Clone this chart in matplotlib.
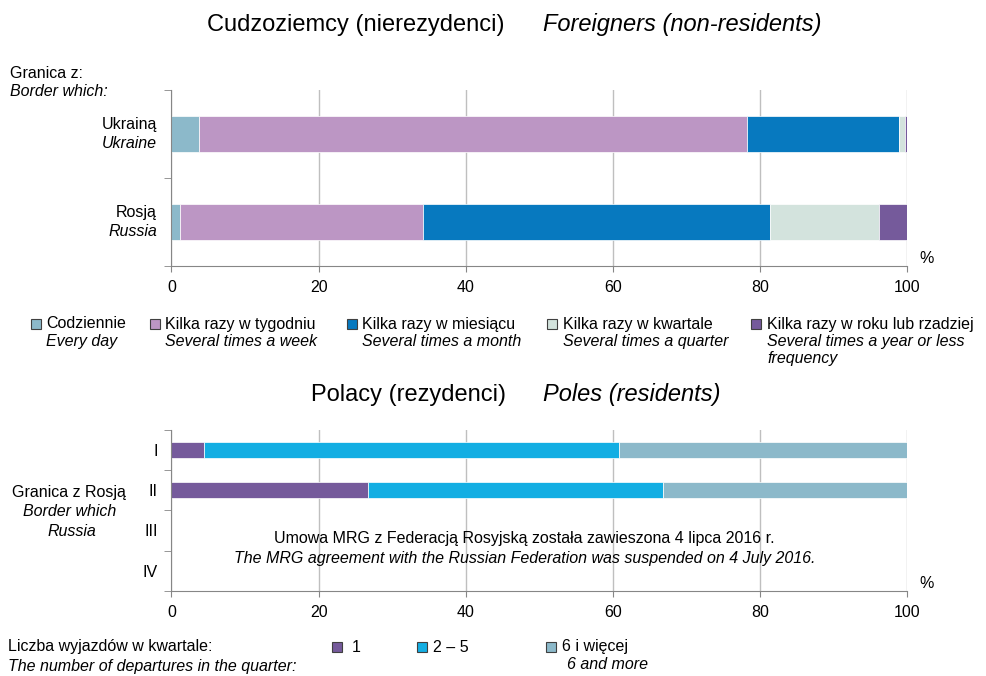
"""
Częstotliwość przekraczania granicy - cudzoziemcy i Polacy
"""

import numpy as np
import matplotlib
matplotlib.use('Agg')
import matplotlib.pyplot as plt
from matplotlib.patches import Rectangle
from matplotlib.transforms import blended_transform_factory

plt.rcParams['font.family'] = ['Liberation Sans', 'DejaVu Sans']

# --- dane: cudzoziemcy (nierezydenci) ---
borders_pl = ['Ukrainą', 'Rosją']
borders_en = ['Ukraine', 'Russia']
freq_pl = ['Codziennie', 'Kilka razy w tygodniu', 'Kilka razy w miesiącu',
           'Kilka razy w kwartale', 'Kilka razy w roku lub rzadziej']
freq_en = ['Every day', 'Several times a week', 'Several times a month',
           'Several times a quarter', 'Several times a year or less\nfrequency']
every_day = [3.8, 1.1]
per_week = [74.4, 33.1]
per_month = [20.7, 47.1]
per_quarter = [0.8, 14.9]
per_year = [0.3, 3.8]

# --- dane: Polacy (rezydenci), granica z Rosją ---
quarters = ['I', 'II', 'III', 'IV']
dep_pl = ['1', '2 – 5', '6 i więcej']
dep_en = ['', '', '6 and more']
dep_one = [4.4, 26.7]
dep_two_five = [56.4, 40.1]
dep_six_plus = [39.2, 33.2]

FREQ_COLORS = ['#8CB9CA', '#BC96C4', '#0779BF', '#D3E3DD', '#755A9B']
DEP_COLORS = ['#755A9B', '#13AEE3', '#8CB9CA']
SPINE = '#868686'
GRID = '#BFBFBF'
FS = 11.5

W, H = 987, 676


def fx(px):
    return px / W


def fy(py):
    return 1 - py / H


def style_axes(ax, n):
    ax.set_xlim(0, 100)
    ax.set_ylim(n - 0.5, -0.5)
    ax.set_xticks(np.arange(0, 101, 20))
    ax.tick_params(axis='x', length=4, color=SPINE, labelsize=FS, pad=6)
    ax.set_yticks(np.arange(n))
    ax.set_yticks(np.arange(n + 1) - 0.5, minor=True)
    ax.tick_params(axis='y', which='major', length=0)
    ax.tick_params(axis='y', which='minor', length=5, color=SPINE)
    ax.grid(axis='x', color=GRID, lw=1)
    ax.set_axisbelow(True)
    for s in ['top', 'right']:
        ax.spines[s].set_visible(False)
    for s in ['left', 'bottom']:
        ax.spines[s].set_color(SPINE)


def stacked(ax, series, colors, height):
    y = np.arange(len(series[0]))
    left = np.zeros(len(y))
    for vals, c in zip(series, colors):
        ax.barh(y, vals, left=left, height=height, color=c,
                edgecolor='white', linewidth=0.5)
        left += np.array(vals)


def legend_item(x_box, x_txt, y, color, pl, en, en_dx=0, size=10):
    fig.patches.append(Rectangle((fx(x_box), fy(y + size / 2)), size / W, size / H,
                                 transform=fig.transFigure, facecolor=color,
                                 edgecolor='#404040', lw=0.8))
    fig.text(fx(x_txt), fy(y), pl, fontsize=FS, va='center', ha='left')
    if en:
        fig.text(fx(x_txt + en_dx), fy(y + 10), en, fontsize=FS, style='italic',
                 va='top', ha='left', linespacing=1.15)


fig = plt.figure(figsize=(W / 100, H / 100), dpi=100)

# ---------- górny wykres ----------
ax1 = fig.add_axes([fx(171.5), fy(266), (907.3 - 171.5) / W, 176 / H])
stacked(ax1, [every_day, per_week, per_month, per_quarter, per_year], FREQ_COLORS, 0.41)
style_axes(ax1, len(borders_pl))
ax1.set_yticklabels([])
tr1 = blended_transform_factory(ax1.transAxes, ax1.transData)
for i, (pl, en) in enumerate(zip(borders_pl, borders_en)):
    ax1.text(-0.0197, i - 0.108, pl, transform=tr1, ha='right', va='center', fontsize=FS)
    ax1.text(-0.0197, i + 0.108, en, transform=tr1, ha='right', va='center',
             fontsize=FS, style='italic')

fig.text(fx(207), fy(25), 'Cudzoziemcy (nierezydenci)', fontsize=17, va='center')
fig.text(fx(543), fy(25), 'Foreigners (non-residents)', fontsize=17, va='center',
         style='italic')
fig.text(fx(10), fy(73), 'Granica z:', fontsize=FS, va='center')
fig.text(fx(10), fy(92), 'Border which:', fontsize=FS, va='center', style='italic')
fig.text(fx(927), fy(258), '%', fontsize=FS, va='center', ha='center')

# legenda górna
box_x = [31, 150, 347, 547, 751]
txt_x = [46, 165, 362, 563, 767]
for bx, tx, c, pl, en in zip(box_x, txt_x, FREQ_COLORS, freq_pl, freq_en):
    legend_item(bx, tx, 324, c, pl, en)

# ---------- dolny wykres ----------
fig.text(fx(311), fy(395), 'Polacy (rezydenci)', fontsize=17, va='center')
fig.text(fx(543), fy(395), 'Poles (residents)', fontsize=17, va='center', style='italic')

ax2 = fig.add_axes([fx(171.5), fy(590.7), (907.3 - 171.5) / W, 160.7 / H])
stacked(ax2, [dep_one, dep_two_five, dep_six_plus], DEP_COLORS, 0.4)
style_axes(ax2, len(quarters))
ax2.set_yticklabels(quarters, fontsize=FS)
ax2.tick_params(axis='y', which='major', pad=10)

fig.text(fx(69), fy(492), 'Granica z Rosją', fontsize=FS, va='center', ha='center')
fig.text(fx(70), fy(512), 'Border which', fontsize=FS, va='center', ha='center',
         style='italic')
fig.text(fx(72), fy(532), 'Russia', fontsize=FS, va='center', ha='center',
         style='italic')

ax2.text(0.48, fy(538), 'Umowa MRG z Federacją Rosyjską została zawieszona 4 lipca 2016 r.',
         transform=blended_transform_factory(ax2.transAxes, fig.transFigure),
         fontsize=FS, ha='center', va='center')
ax2.text(0.48, fy(558),
         'The MRG agreement with the Russian Federation was suspended on 4 July 2016.',
         transform=blended_transform_factory(ax2.transAxes, fig.transFigure),
         fontsize=FS, ha='center', va='center', style='italic')
fig.text(fx(927), fy(583), '%', fontsize=FS, va='center', ha='center')

# legenda dolna
fig.text(fx(8), fy(647), 'Liczba wyjazdów w kwartale:', fontsize=FS, va='center')
fig.text(fx(8), fy(667), 'The number of departures in the quarter:', fontsize=FS,
         va='center', style='italic')
for bx, tx, c, pl, en in zip([332, 417, 546], [352, 433, 562], DEP_COLORS, dep_pl, dep_en):
    legend_item(bx, tx, 647, c, pl, en, en_dx=5)

fig.savefig('out.png', dpi=100)
plt.close(fig)
print('Saved: out.png')
